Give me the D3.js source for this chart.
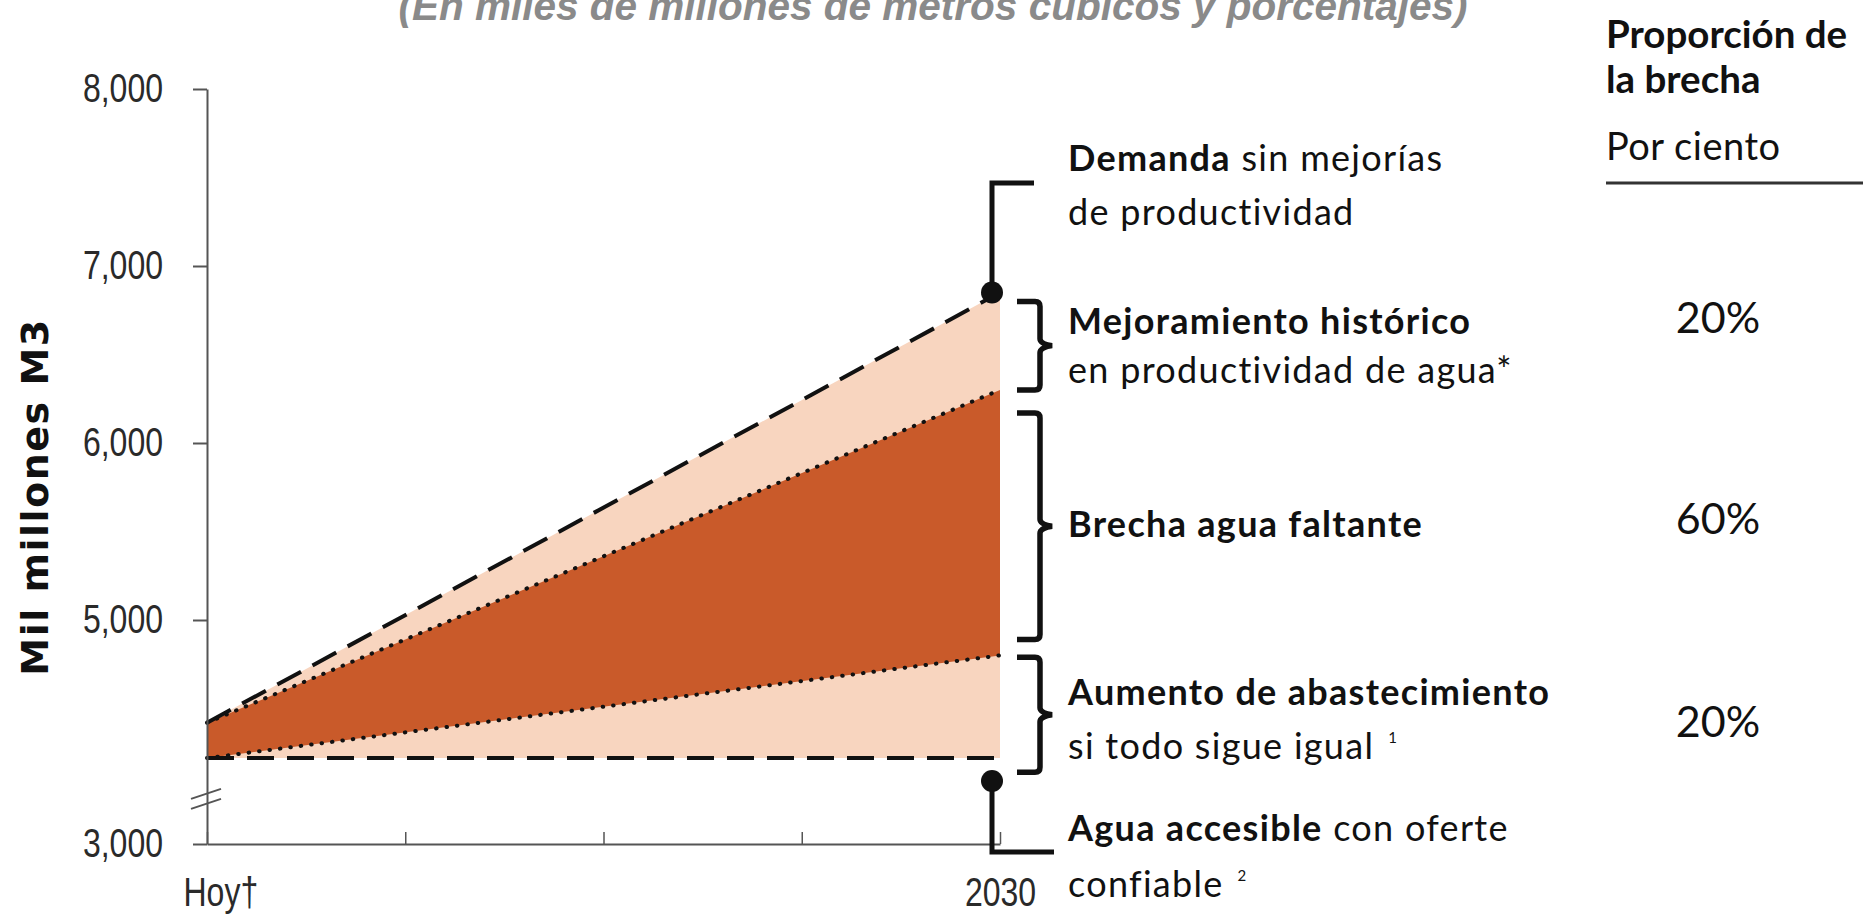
<!DOCTYPE html>
<html>
<head>
<meta charset="utf-8">
<script src="https://cdn.jsdelivr.net/npm/d3@7"></script>
<style>
    body { margin: 0; background: #fff; }
    svg { display: block; }
    .tick-label { font-family: "Liberation Sans", Arial, sans-serif; font-size: 40px; fill: #2a2a2a; }
    .note { font-family: Lato, "Open Sans", sans-serif; font-size: 36px; fill: #111; letter-spacing: 1.3px; }
    .note .strong { font-weight: 700; }
    .head { font-family: Lato, "Open Sans", sans-serif; font-size: 40px; fill: #111; }
</style>
</head>
<body>
<svg id="chart" width="1863" height="920"></svg>
<script>
// water demand vs supply, in thousands of millions of m3
var periods = ["Hoy†", "", "", "", "2030"];
var periodIdx = [0, 4];                 // first and last period carry the series
var demand = [4420, 6850];              // demanda sin mejorias de productividad
var withImprovement = [4420, 6300];     // demanda con mejoramiento historico
var supplyGrowth = [4220, 4800];        // abastecimiento si todo sigue igual
var supplyToday = [4220, 4220];         // agua accesible hoy
var accessible2030 = 4090;
var yTicks = [3000, 5000, 6000, 7000, 8000];
var braceRanges = [[6800, 6300], [6170, 4890], [4790, 4140]];
var gapShares = ["20%", "60%", "20%"];

var svg = d3.select("#chart");
var g = svg.append("g");

var x = d3.scaleLinear().domain([0, 4]).range([207, 1000]);
// broken axis: 3000..4000 compressed
var y = d3.scaleLinear().domain([3000, 4000, 8000]).range([844, 797, 89]);

var PEACH = "#f8d5bf";
var RUST = "#c95a2a";
var NARROW = 0.8;   // squeeze for the condensed tick font

function pts(a) {
    return periodIdx.map(function (p, i) { return {x: p, v: a[i]}; });
}
function pts2(top, bottom) {
    return periodIdx.map(function (p, i) { return {x: p, t: top[i], b: bottom[i]}; });
}

var area = d3.area()
             .x(function (d) { return x(d.x); })
             .y0(function (d) { return y(d.b); })
             .y1(function (d) { return y(d.t); });
var line = d3.line()
             .x(function (d) { return x(d.x); })
             .y(function (d) { return y(d.v); });

g.append("path").attr("d", area(pts2(demand, supplyToday))).attr("fill", PEACH);
g.append("path").attr("d", area(pts2(withImprovement, supplyGrowth))).attr("fill", RUST);

// boundary lines
[demand, supplyToday].forEach(function (s) {
    g.append("path").attr("d", line(pts(s)))
     .attr("fill", "none").attr("stroke", "#111").attr("stroke-width", 4)
     .attr("stroke-dasharray", "27,13");
});
[withImprovement, supplyGrowth].forEach(function (s) {
    g.append("path").attr("d", line(pts(s)))
     .attr("fill", "none").attr("stroke", "#111").attr("stroke-width", 4)
     .attr("stroke-linecap", "round").attr("stroke-dasharray", "0.5,10");
});

// y axis
var yAxis = d3.axisLeft(y)
              .tickValues(yTicks)
              .tickFormat(d3.format(","))
              .tickSizeInner(14)
              .tickSizeOuter(0)
              .tickPadding(30);
var yAxisG = g.append("g").attr("transform", "translate(207,0)").call(yAxis);
yAxisG.select(".domain").attr("stroke", "#555").attr("stroke-width", 2);
yAxisG.selectAll(".tick line").attr("stroke", "#555").attr("stroke-width", 2);
yAxisG.selectAll(".tick text")
      .attr("class", "tick-label").attr("font-family", null).attr("font-size", null)
      .attr("x", -44 / NARROW)
      .attr("transform", "scale(" + NARROW + ",1)");

// axis break marks
[0, 10].forEach(function (off) {
    g.append("line")
     .attr("x1", 191).attr("y1", y(3960) + off)
     .attr("x2", 221).attr("y2", y(3960) + off - 10)
     .attr("stroke", "#555").attr("stroke-width", 2);
});

// x axis
var xAxis = d3.axisBottom(x)
              .tickValues(d3.range(periods.length))
              .tickFormat(function (i) { return periods[i]; })
              .tickSizeInner(-12)
              .tickSizeOuter(0)
              .tickPadding(34);
var xAxisG = g.append("g").attr("transform", "translate(0," + y(3000) + ")").call(xAxis);
xAxisG.select(".domain").attr("stroke", "#555").attr("stroke-width", 2);
xAxisG.selectAll(".tick line").attr("stroke", "#555").attr("stroke-width", 1.5);
xAxisG.selectAll(".tick text")
      .attr("class", "tick-label").attr("font-family", null).attr("font-size", null)
      .attr("dy", "0.71em")
      .attr("transform", "scale(" + NARROW + ",1)");
xAxisG.select(".tick text").attr("text-anchor", "start").attr("x", -24 / NARROW);

// y axis title
g.append("text")
 .attr("transform", "translate(48,497) rotate(-90)")
 .attr("text-anchor", "middle")
 .style("font-family", "'DejaVu Sans', sans-serif")
 .style("font-weight", "bold")
 .style("font-size", "38px")
 .style("letter-spacing", "1.5px")
 .attr("fill", "#111")
 .text("Mil millones  M3");

// title (cut at top of picture)
g.append("text")
 .attr("x", 933).attr("y", 20)
 .attr("text-anchor", "middle")
 .style("font-family", "'Liberation Sans', Arial, sans-serif")
 .style("font-weight", "bold").style("font-style", "italic")
 .style("font-size", "40.5px")
 .attr("fill", "#8a8a8a")
 .text("(En miles de millones de metros cúbicos y porcentajes)");

// markers at 2030
var xEnd = x(4) - 8;
var dTop = y(demand[1]);
g.append("path")
 .attr("d", "M" + xEnd + "," + dTop + "V183H" + (xEnd + 42))
 .attr("fill", "none").attr("stroke", "#111").attr("stroke-width", 5);
g.append("circle").attr("cx", xEnd).attr("cy", dTop).attr("r", 11).attr("fill", "#111");

var aY = y(accessible2030);
g.append("path")
 .attr("d", "M" + xEnd + "," + aY + "V852H" + (xEnd + 62))
 .attr("fill", "none").attr("stroke", "#111").attr("stroke-width", 5);
g.append("circle").attr("cx", xEnd).attr("cy", aY).attr("r", 11).attr("fill", "#111");

// curly braces
function brace(x0, y0, y1, w) {
    var ym = (y0 + y1) / 2, sx = x0 + w;
    return "M" + x0 + "," + y0 +
           "H" + (sx - 5) + "Q" + sx + "," + y0 + " " + sx + "," + (y0 + 5) +
           "V" + (ym - 7) + "Q" + sx + "," + (ym - 2) + " " + (sx + 12) + "," + ym +
           "Q" + sx + "," + (ym + 2) + " " + sx + "," + (ym + 7) +
           "V" + (y1 - 5) + "Q" + sx + "," + y1 + " " + (sx - 5) + "," + y1 +
           "H" + x0;
}
braceRanges.forEach(function (r) {
    g.append("path")
     .attr("d", brace(1017, y(r[0]), y(r[1]), 23))
     .attr("fill", "none").attr("stroke", "#111").attr("stroke-width", 5.5);
});

// annotations
var notes = [
    {y: 171, parts: [["Demanda", true], [" sin mejorías", false]]},
    {y: 225, parts: [["de productividad", false]]},
    {y: 334, parts: [["Mejoramiento histórico", true]]},
    {y: 383, parts: [["en productividad de agua*", false]]},
    {y: 537, parts: [["Brecha agua faltante", true]]},
    {y: 705, parts: [["Aumento de abastecimiento", true]]},
    {y: 759, parts: [["si todo sigue igual", false]], sup: "1"},
    {y: 841, parts: [["Agua accesible", true], [" con oferte", false]]},
    {y: 897, parts: [["confiable", false]], sup: "2"}
];
notes.forEach(function (n) {
    var t = g.append("text").attr("class", "note").attr("x", 1068).attr("y", n.y);
    n.parts.forEach(function (p) {
        t.append("tspan").attr("class", p[1] ? "strong" : null).text(p[0]);
    });
    if (n.sup) {
        t.append("tspan").attr("dx", 14).attr("dy", -16).style("font-size", "15px").text(n.sup);
    }
});

// right column
g.append("text").attr("x", 1606).attr("y", 48).attr("class", "head").style("font-weight", 700).style("font-size", "38.5px").text("Proporción de");
g.append("text").attr("x", 1606).attr("y", 93).attr("class", "head").style("font-weight", 700).style("font-size", "38.5px").text("la brecha");
g.append("text").attr("x", 1606).attr("y", 160).attr("class", "head").style("font-size", "38px").style("letter-spacing", "0.5px").text("Por ciento");
g.append("line").attr("x1", 1606).attr("x2", 1863).attr("y1", 183).attr("y2", 183)
 .attr("stroke", "#333").attr("stroke-width", 3);

g.selectAll(".share")
 .data(gapShares)
 .enter()
 .append("text")
 .attr("class", "head share")
 .attr("x", 1718)
 .attr("y", function (d, i) { return [333, 534, 737][i]; })
 .attr("text-anchor", "middle")
 .style("font-size", "43px")
 .text(function (d) { return d; });
</script>
</body>
</html>
